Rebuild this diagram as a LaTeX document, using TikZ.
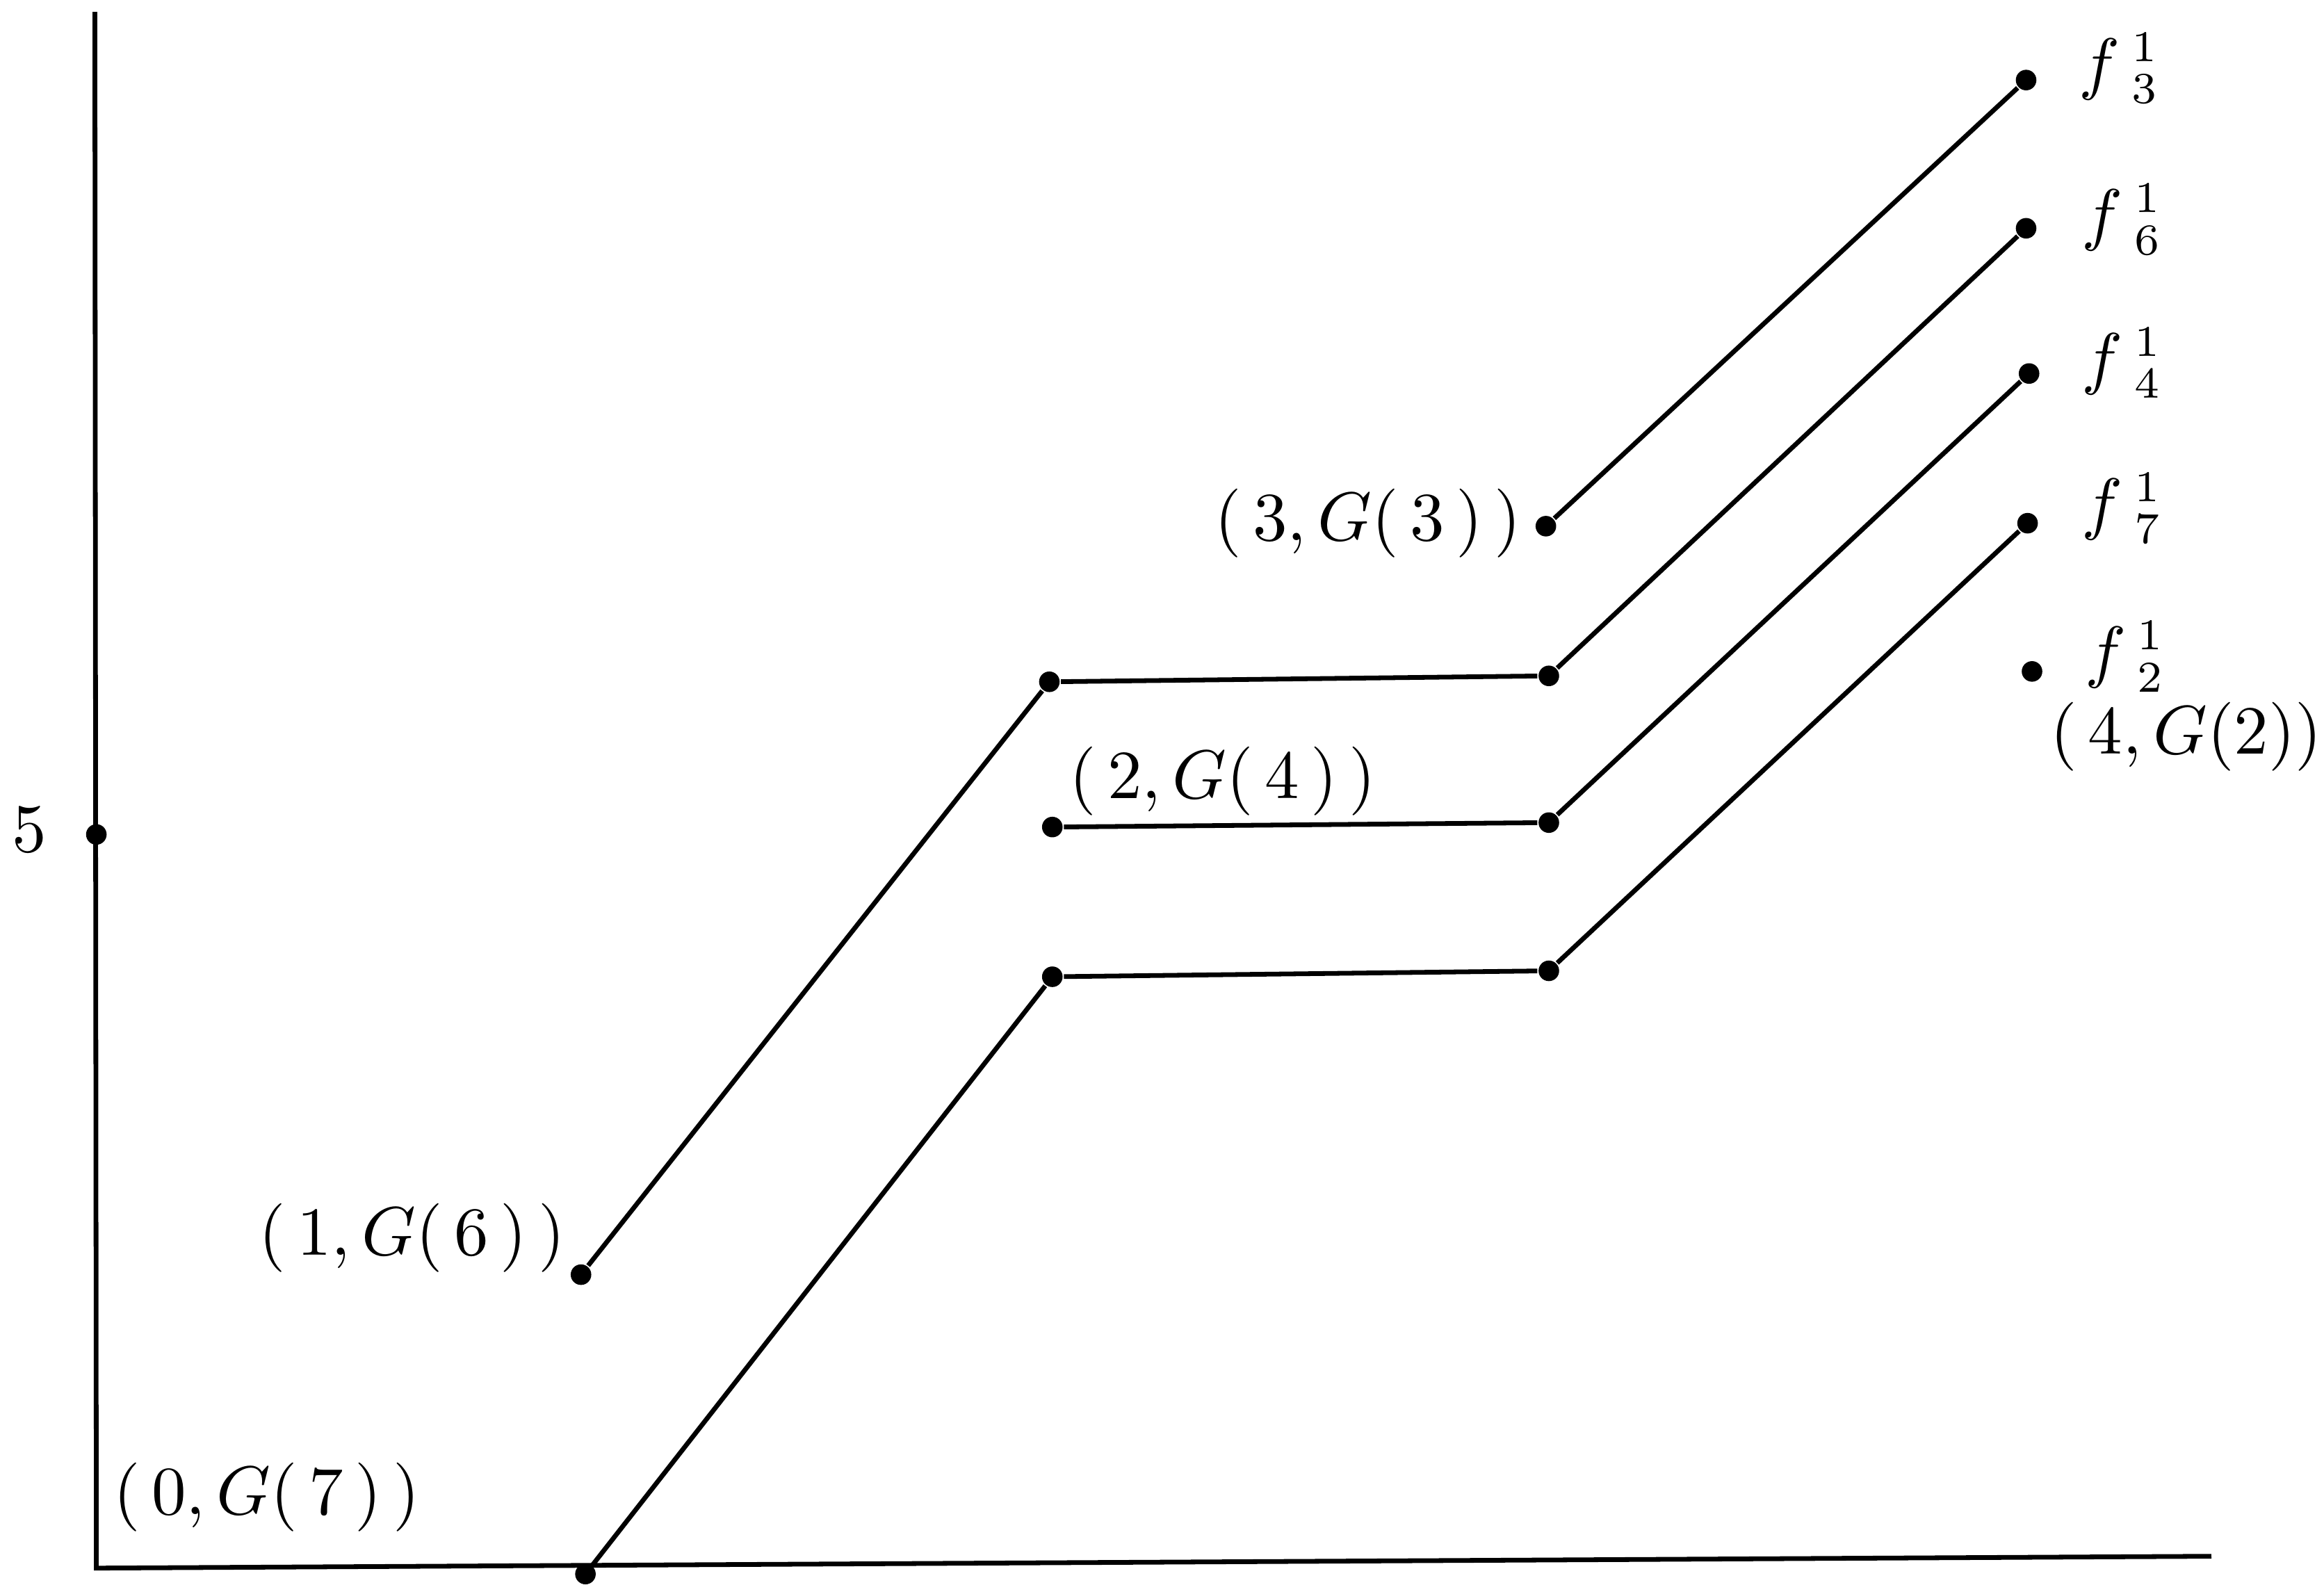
\documentclass[tikz,border=0pt]{standalone}
\begin{document}
\begin{tikzpicture}[
    x=0.00829cm, y=-0.00829cm,
    font=\fontsize{10.5}{12.6}\selectfont,
    dot/.style={circle, fill=black, inner sep=0pt, minimum size=0.115cm},
    seg/.style={line width=0.75pt},
    lbl/.style={inner sep=1pt}
]
\useasboundingbox (0,0) rectangle (1568,1069);

% --- Axes ---
\coordinate (ytop) at (64,8);
\coordinate (origin) at (65,1058);
\coordinate (xend) at (1492,1050);
\draw [seg] (ytop) -- (origin) -- (xend);

% --- Nodes ---
% Left column
\node (p5) at (65,563) [dot] {};
\node (a0) at (395,1062) [dot] {};
\node (a1) at (392,860) [dot] {};
% Middle columns
\node (b1) at (708,460) [dot] {};
\node (b2) at (710,558) [dot] {};
\node (b3) at (710,659) [dot] {};
\node (c0) at (1043,355) [dot] {};
\node (c1) at (1045,456) [dot] {};
\node (c2) at (1045,555) [dot] {};
\node (c3) at (1045,655) [dot] {};
% Right column
\node (d3) at (1367,54) [dot] {};
\node (d6) at (1367,154) [dot] {};
\node (d4) at (1369,252) [dot] {};
\node (d7) at (1368,353) [dot] {};
\node (d2) at (1371,453) [dot] {};

% --- Labels ---
\node (l5) at (20,560) [lbl] {$5$};
\node (la0) at (180,1010) [lbl] {$(\,0,G(\,7\,)\,)$};
\node (la1) at (278,835) [lbl] {$(\,1,G(\,6\,)\,)$};
\node (lb2) at (825,527) [lbl] {$(\,2,G(\,4\,)\,)$};
\node (lc0) at (923,353) [lbl] {$(\,3,G(\,3\,)\,)$};
\node (ld2) at (1475,497) [lbl] {$(\,4,G(2))$};
\node (fd3) at (1430,46) [lbl] {$f\,{}^{1}_{3}$};
\node (fd6) at (1432,148) [lbl] {$f\,{}^{1}_{6}$};
\node (fd4) at (1432,245) [lbl] {$f\,{}^{1}_{4}$};
\node (fd7) at (1432,343) [lbl] {$f\,{}^{1}_{7}$};
\node (fd2) at (1434,443) [lbl] {$f\,{}^{1}_{2}$};

% --- Edges ---
\draw [seg] (a1) -- (b1);
\draw [seg] (a0) -- (b3);
\draw [seg] (b1) -- (c1);
\draw [seg] (b2) -- (c2);
\draw [seg] (b3) -- (c3);
\draw [seg] (c0) -- (d3);
\draw [seg] (c1) -- (d6);
\draw [seg] (c2) -- (d4);
\draw [seg] (c3) -- (d7);

\end{tikzpicture}
\end{document}
